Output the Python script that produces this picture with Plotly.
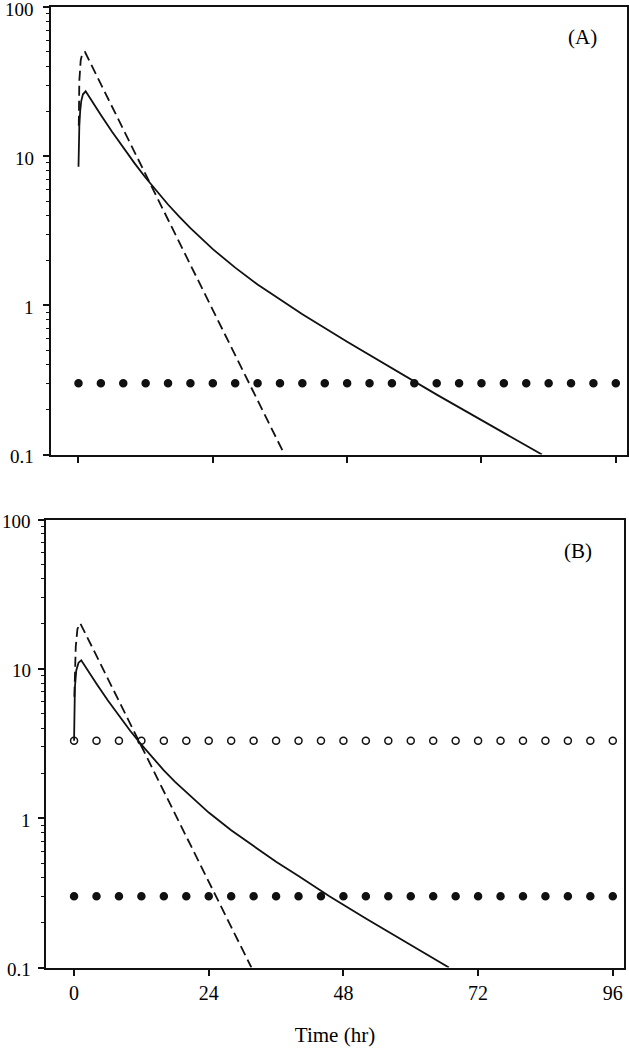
import math

import plotly.graph_objects as go

# ---------------------------------------------------------------------------
# Data (time in hr, concentration on log scale)
# ---------------------------------------------------------------------------

# Panel A - solid curve
a_solid_t = [0, 0.08, 0.15, 0.3, 0.5, 0.8, 1.28, 2, 3, 4, 6, 8, 10, 12, 14, 16,
             18, 20, 24, 28, 32, 36, 40, 48, 56, 64, 72, 80, 82.8]
a_solid_c = [8.5, 13, 16, 20, 23.5, 26, 27.2, 24.7, 21.5, 18.9, 14.6, 11.4, 8.98,
             7.17, 5.8, 4.74, 3.93, 3.29, 2.38, 1.79, 1.38, 1.09, 0.87, 0.57,
             0.378, 0.252, 0.17, 0.115, 0.1]

# Panel A - dashed curve
a_dash_t = [0.05, 0.15, 0.4, 0.7, 1.16, 2, 4, 6, 8, 10, 12, 16, 20, 24, 28, 32, 36, 36.8]
a_dash_c = [16, 32, 44, 49, 49.9, 43.1, 30.4, 21.5, 15.1, 10.7, 7.52, 3.74, 1.86,
            0.927, 0.46, 0.229, 0.114, 0.1]

# Panel B - solid curve
b_solid_t = [0, 0.03, 0.08, 0.15, 0.4, 0.8, 1.28, 2, 3, 4, 6, 8, 10, 12, 14, 16,
             18, 20, 24, 28, 32, 36, 40, 45.5, 52, 60, 66.8]
b_solid_c = [3.3, 5, 6.5, 7.5, 9.8, 11.0, 11.4, 10.3, 9.05, 7.94, 6.16, 4.84, 3.85,
             3.11, 2.54, 2.09, 1.75, 1.49, 1.09, 0.83, 0.65, 0.51, 0.41, 0.3,
             0.213, 0.142, 0.1]

# Panel B - dashed curve
b_dash_t = [0.05, 0.15, 0.3, 0.6, 1.1, 2, 4, 6, 8, 10, 12, 16, 20, 24, 28, 31.6]
b_dash_c = [6.5, 10, 14, 18.5, 20.2, 17.3, 12.2, 8.61, 6.08, 4.29, 3.03, 1.51,
            0.754, 0.376, 0.187, 0.1]

# Horizontal marker rows
row_t = [0, 4, 8, 12, 16, 20, 24, 28, 32, 36, 40, 44, 48, 52, 56, 60, 64, 68,
         72, 76, 80, 84, 88, 92, 96]
filled_level = [0.3] * len(row_t)
open_level = [3.3] * len(row_t)

x_ticks = [0, 24, 48, 72, 96]
y_ticks = [0.1, 1, 10, 100]
y_ticklabels = ["0.1", "1", "10", "100"]
y_minor = [0.2, 0.3, 0.4, 0.5, 0.6, 0.7, 0.8, 0.9,
           2, 3, 4, 5, 6, 7, 8, 9,
           20, 30, 40, 50, 60, 70, 80, 90]

FONT = "Liberation Serif, Times New Roman, serif"
INK = "#111111"
W, H = 629, 1050
FS = 20

# panel geometry in pixels (left, right, top, bottom)
A_BOX = (50.5, 627, 7, 454.5)
B_BOX = (46, 624, 519.5, 967.5)


def solid(x, y, xa, ya):
    return go.Scatter(x=x, y=y, mode="lines", xaxis=xa, yaxis=ya,
                      line={"color": INK, "width": 1.8}, showlegend=False)


def dashed(x, y, xa, ya):
    return go.Scatter(x=x, y=y, mode="lines", xaxis=xa, yaxis=ya,
                      line={"color": INK, "width": 1.8, "dash": "10px,5px"},
                      showlegend=False)


def dots(y, xa, ya, open_=False, opacity=1):
    return go.Scatter(
        x=row_t, y=y, mode="markers", xaxis=xa, yaxis=ya, showlegend=False,
        marker={"size": 7, "symbol": "circle-open" if open_ else "circle",
                "color": INK, "line": {"color": INK, "width": 1.5}},
        opacity=opacity, cliponaxis=False, hoverinfo="skip",
    )


def y_labels(yref, right_px):
    # y tick labels as text placed next to each decade tick
    return [
        dict(text=lab, x=right_px / W, y=math.log10(v), xref="paper",
             yref=yref, xanchor="right", yanchor="middle", yshift=-2,
             borderpad=0, borderwidth=0, showarrow=False,
             font={"family": FONT, "size": 19, "color": "black"})
        for v, lab in zip(y_ticks, y_ticklabels)
    ]


fig = go.Figure()
fig.add_trace(dots(filled_level, "x", "y"))
fig.add_trace(dashed(a_dash_t, a_dash_c, "x", "y"))
fig.add_trace(solid(a_solid_t, a_solid_c, "x", "y"))

fig.add_trace(dots(filled_level, "x2", "y2"))
fig.add_trace(dots(open_level, "x2", "y2", open_=True))
fig.add_trace(dashed(b_dash_t, b_dash_c, "x2", "y2"))
fig.add_trace(solid(b_solid_t, b_solid_c, "x2", "y2"))

# invisible carriers for the minor-tick axes
fig.add_trace(dots(filled_level, "x", "y3", opacity=0))
fig.add_trace(dots(filled_level, "x2", "y4", opacity=0))

xaxis_common = dict(
    range=[-5, 98], tickvals=x_ticks, ticks="outside", ticklen=7, tickwidth=1.5,
    tickcolor=INK, showline=True, linecolor=INK, linewidth=1.5, mirror=True,
    showgrid=False, zeroline=False, automargin=False, ticklabeloverflow="allow",
    tickfont={"family": FONT, "size": FS, "color": "black"},
)
yaxis_common = dict(
    type="log", range=[-1, 2], tickvals=y_ticks, showticklabels=False,
    ticks="outside", ticklen=6, tickwidth=1.5, tickcolor=INK,
    showline=True, linecolor=INK, linewidth=1.5, mirror=True,
    showgrid=False, zeroline=False, automargin=False,
)
yminor_common = dict(
    type="log", range=[-1, 2], tickvals=y_minor, ticks="outside", ticklen=4,
    tickwidth=1.2, tickcolor=INK, showticklabels=False, showline=False,
    showgrid=False, zeroline=False, automargin=False, side="left",
)


def dom_x(box):
    return [box[0] / W, box[1] / W]


def dom_y(box):
    return [1 - box[3] / H, 1 - box[2] / H]


fig.update_layout(
    width=W, height=H,
    margin={"l": 0, "r": 0, "t": 0, "b": 0, "autoexpand": False},
    paper_bgcolor="white", plot_bgcolor="white",
    xaxis=dict(xaxis_common, domain=dom_x(A_BOX), anchor="y", showticklabels=False),
    yaxis=dict(yaxis_common, domain=dom_y(A_BOX), anchor="x"),
    yaxis3=dict(yminor_common, overlaying="y", anchor="x"),
    xaxis2=dict(xaxis_common, domain=dom_x(B_BOX), anchor="y2",
                title={"text": "Time (hr)", "standoff": 24,
                       "font": {"family": FONT, "size": 21, "color": "black"}}),
    yaxis2=dict(yaxis_common, domain=dom_y(B_BOX), anchor="x2"),
    yaxis4=dict(yminor_common, overlaying="y2", anchor="x2"),
    annotations=[
        dict(text="(A)", x=582 / W, y=1 - 37.5 / H, xref="paper", yref="paper",
             showarrow=False, xanchor="center", yanchor="middle",
             font={"family": FONT, "size": 21, "color": "black"}),
        dict(text="(B)", x=578 / W, y=1 - 551 / H, xref="paper", yref="paper",
             showarrow=False, xanchor="center", yanchor="middle",
             font={"family": FONT, "size": 21, "color": "black"}),
    ] + y_labels("y", 34) + y_labels("y2", 31),
)

# the page's default body margin would shift the figure by 8 px
fig.write_html("out.html", config={"displayModeBar": False},
               post_script="document.body.style.margin='0';")
